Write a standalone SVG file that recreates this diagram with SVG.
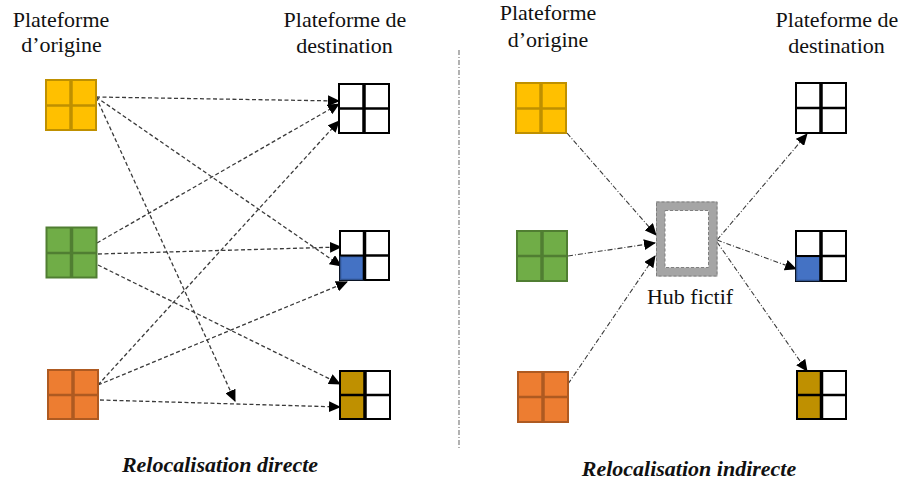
<svg xmlns="http://www.w3.org/2000/svg" width="903" height="486" viewBox="0 0 903 486">
<defs>
<marker id="ah" markerUnits="userSpaceOnUse" markerWidth="12" markerHeight="11" refX="11" refY="5.5" orient="auto" viewBox="0 0 12 11">
<path d="M0,0 L12,5.5 L0,11 z" fill="#000"/>
</marker>
<style>
.lbl{font-family:"Liberation Serif","Times New Roman",serif;font-size:22px;fill:#111;text-anchor:middle}
.ttl{font-family:"Liberation Serif","Times New Roman",serif;font-size:22px;font-weight:bold;font-style:italic;fill:#111;text-anchor:middle}
.dash{fill:none;stroke:#3a3a3a;stroke-width:1.3;stroke-dasharray:4 2.5;marker-end:url(#ah)}
.dd{fill:none;stroke:#3a3a3a;stroke-width:1.1;stroke-dasharray:5 2 1 2;marker-end:url(#ah)}
.y{fill:#FFC000;stroke:#BF9000}
.g{fill:#70AD47;stroke:#507E32}
.o{fill:#ED7D31;stroke:#AE5A21}
.w{fill:#fff;stroke:#000}
.b{fill:#4472C4;stroke:#2F528F;stroke-width:1.5}
.k{fill:#BF9000;stroke:none}
.frame{stroke-width:2}
.vy{stroke:#BF9000;stroke-width:3.5}.hy{stroke:#BF9000;stroke-width:2.5}
.vg{stroke:#507E32;stroke-width:3.5}.hg{stroke:#507E32;stroke-width:2.5}
.vo{stroke:#AE5A21;stroke-width:3.5}.ho{stroke:#AE5A21;stroke-width:2.5}
.vk{stroke:#000;stroke-width:3.5}.hk{stroke:#000;stroke-width:2.5}
</style>
</defs>
<rect width="903" height="486" fill="#fff"/>

<!-- labels -->
<text class="lbl" x="61" y="27">Plateforme</text>
<text class="lbl" x="61.5" y="52">d’origine</text>
<text class="lbl" x="345" y="27">Plateforme de</text>
<text class="lbl" x="344.5" y="53">destination</text>
<text class="lbl" x="548" y="20">Plateforme</text>
<text class="lbl" x="548" y="47">d’origine</text>
<text class="lbl" x="837" y="27">Plateforme de</text>
<text class="lbl" x="836.5" y="53">destination</text>
<text class="ttl" x="220" y="472">Relocalisation directe</text>
<text class="ttl" x="689" y="476">Relocalisation indirecte</text>

<!-- divider -->
<line x1="459" y1="50" x2="459" y2="450" stroke="#7f7f7f" stroke-width="1.2" stroke-dasharray="5 2 1 2"/>

<!-- connectors -->
<g id="connectors">
<line class="dash" x1="96" y1="97" x2="339" y2="101"/>
<line class="dash" x1="96" y1="97" x2="341" y2="266"/>
<line class="dash" x1="96" y1="97" x2="235" y2="401"/>
<line class="dash" x1="97" y1="243" x2="339" y2="104"/>
<line class="dash" x1="98" y1="254" x2="341" y2="247"/>
<line class="dash" x1="98" y1="265" x2="340" y2="384"/>
<line class="dash" x1="98" y1="385" x2="339" y2="121"/>
<line class="dash" x1="98" y1="385" x2="347" y2="282"/>
<line class="dash" x1="100" y1="400" x2="340" y2="407"/>
<line class="dd" x1="567" y1="133" x2="656" y2="235"/>
<line class="dd" x1="568" y1="256" x2="655" y2="243"/>
<line class="dd" x1="568" y1="384" x2="655" y2="256"/>
<line class="dd" x1="717" y1="240" x2="807" y2="134"/>
<line class="dd" x1="717" y1="240" x2="796" y2="269"/>
<line class="dd" x1="717" y1="242" x2="807" y2="371"/>
</g>

<!-- origin nodes left -->
<g id="orig-yellow-1">
<rect class="y frame" x="46" y="80" width="50" height="50"/>
<line class="vy" x1="71" y1="80" x2="71" y2="130"/><line class="hy" x1="46" y1="105.5" x2="96" y2="105.5"/>
</g>
<g id="orig-green-1">
<rect class="g frame" x="46.5" y="227.5" width="50" height="50"/>
<line class="vg" x1="71.5" y1="227.5" x2="71.5" y2="277.5"/><line class="hg" x1="46.5" y1="253" x2="96.5" y2="253"/>
</g>
<g id="orig-orange-1">
<rect class="o frame" x="48" y="370" width="50" height="49"/>
<line class="vo" x1="73" y1="370" x2="73" y2="419"/><line class="ho" x1="48" y1="395" x2="98" y2="395"/>
</g>

<!-- destination nodes left -->
<g id="dest-1">
<rect class="w frame" x="339" y="84" width="50" height="49"/>
<line class="vk" x1="364" y1="84" x2="364" y2="133"/><line class="hk" x1="339" y1="108.5" x2="389" y2="108.5"/>
</g>
<g id="dest-2">
<rect class="w frame" x="340" y="231" width="49" height="49"/>
<rect class="b" x="340.5" y="256.5" width="23" height="23"/>
<line class="vk" x1="364.5" y1="231" x2="364.5" y2="280"/><line x1="365" y1="255.5" x2="389" y2="255.5" stroke="#000" stroke-width="2.5"/>
<line x1="340" y1="255.5" x2="364" y2="255.5" stroke="#000" stroke-width="2"/>
</g>
<g id="dest-3">
<rect class="w frame" x="340" y="371" width="50" height="48"/>
<rect class="k" x="341" y="372" width="24" height="46"/>
<line class="vk" x1="365" y1="371" x2="365" y2="419"/><line class="hk" x1="340" y1="395" x2="390" y2="395"/>
</g>

<!-- origin nodes right -->
<g id="orig-yellow-2">
<rect class="y frame" x="516" y="83" width="50" height="50"/>
<line class="vy" x1="541" y1="83" x2="541" y2="133"/><line class="hy" x1="516" y1="108.5" x2="566" y2="108.5"/>
</g>
<g id="orig-green-2">
<rect class="g frame" x="517" y="231" width="50" height="50"/>
<line class="vg" x1="542" y1="231" x2="542" y2="281"/><line class="hg" x1="517" y1="256" x2="567" y2="256"/>
</g>
<g id="orig-orange-2">
<rect class="o frame" x="518" y="372" width="50" height="50"/>
<line class="vo" x1="543" y1="372" x2="543" y2="422"/><line class="ho" x1="518" y1="397" x2="568" y2="397"/>
</g>

<!-- hub -->
<g id="hub">
<rect x="660.5" y="206" width="52.5" height="66" fill="#fff" stroke="#a5a5a5" stroke-width="9"/>
<rect x="656.5" y="202" width="60.5" height="74" fill="none" stroke="#7f7f7f" stroke-width="1" stroke-dasharray="3 2"/>
<rect x="665" y="210.5" width="43.5" height="57" fill="none" stroke="#7f7f7f" stroke-width="1" stroke-dasharray="3 2"/>
<text class="lbl" x="690" y="304">Hub fictif</text>
</g>

<!-- destination nodes right -->
<g id="dest-4">
<rect class="w frame" x="796" y="83" width="50" height="50"/>
<line class="vk" x1="821" y1="83" x2="821" y2="133"/><line class="hk" x1="796" y1="108" x2="846" y2="108"/>
</g>
<g id="dest-5">
<rect class="w frame" x="796" y="231" width="50" height="50"/>
<rect class="b" x="796.5" y="256.5" width="24" height="24"/>
<line class="vk" x1="821" y1="231" x2="821" y2="281"/><line x1="821" y1="256" x2="846" y2="256" stroke="#000" stroke-width="2.5"/>
<line x1="796" y1="256" x2="820" y2="256" stroke="#000" stroke-width="2"/>
</g>
<g id="dest-6">
<rect class="w frame" x="797" y="371" width="49" height="48"/>
<rect class="k" x="798" y="372" width="23" height="46"/>
<line class="vk" x1="821.5" y1="371" x2="821.5" y2="419"/><line class="hk" x1="797" y1="395" x2="846" y2="395"/>
</g>
</svg>
